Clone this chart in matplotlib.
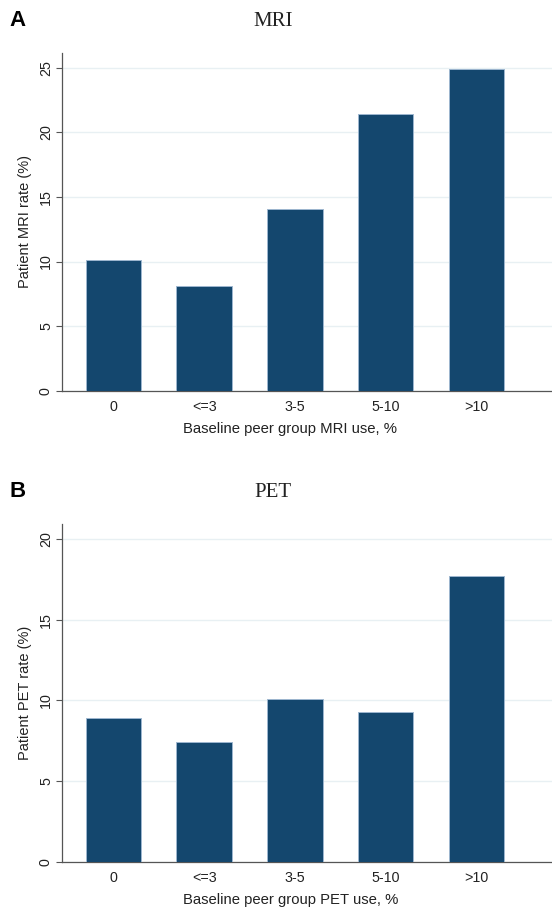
"""Patient MRI / PET rates by baseline peer group use (two-panel bar chart)."""

import matplotlib
matplotlib.use("Agg")
import matplotlib.pyplot as plt
import numpy as np

categories = ["0", "<=3", "3-5", "5-10", ">10"]
mri_rate = [10.15, 8.12, 14.05, 21.4, 24.9]
pet_rate = [8.93, 7.40, 10.09, 9.26, 17.73]

BAR_COLOR = "#14476e"
EDGE_COLOR = "#9db6cf"
GRID_COLOR = "#e8f0f3"
AXIS_COLOR = "#555555"

plt.rcParams["font.family"] = ["Liberation Sans", "DejaVu Sans"]


def draw_panel(fig, rect, values, yticks, ytop, title, letter, modality):
    ax = fig.add_axes(rect)
    x = np.arange(len(categories))
    ax.bar(x, values, width=0.61, color=BAR_COLOR, edgecolor=EDGE_COLOR,
           linewidth=0.7, zorder=3)
    ax.set_xlim(-0.565, 4.83)
    ax.set_ylim(0, ytop)
    ax.set_yticks(yticks)
    ax.set_yticklabels([str(t) for t in yticks], rotation=90, va="center")
    ax.set_xticks(x)
    ax.set_xticklabels(categories)
    ax.tick_params(axis="x", length=0, labelsize=10.3, pad=7,
                   labelcolor="#222222")
    ax.tick_params(axis="y", length=4, width=0.8, color=AXIS_COLOR,
                   labelsize=10.3, pad=2.5, labelcolor="#222222")
    ax.yaxis.grid(True, color=GRID_COLOR, linewidth=1.0, zorder=0)
    ax.set_axisbelow(True)
    for side in ("top", "right"):
        ax.spines[side].set_visible(False)
    for side in ("left", "bottom"):
        ax.spines[side].set_color(AXIS_COLOR)
        ax.spines[side].set_linewidth(0.9)
    ax.set_xlabel(f"Baseline peer group {modality} use, %", fontsize=10.7,
                  color="#222222")
    ax.xaxis.set_label_coords(0.466, -0.092)
    ax.set_ylabel(f"Patient {modality} rate (%)", fontsize=10.5,
                  color="#222222")
    ax.yaxis.set_label_coords(-0.062, 0.5)

    top = rect[1] + rect[3]
    fig.text(0.494, top + 0.035, title, ha="center", va="center",
             fontsize=15, family="Liberation Serif", color="#222222")
    fig.text(0.017, top + 0.036, letter, ha="left", va="center",
             fontsize=16, fontweight="bold", color="black")
    return ax


fig = plt.figure(figsize=(5.52, 9.07), dpi=100)

draw_panel(fig, [0.1123, 0.5692, 0.8877, 0.3724], mri_rate,
           [0, 5, 10, 15, 20, 25], 26.14, "MRI", "A", "MRI")
draw_panel(fig, [0.1123, 0.0499, 0.8877, 0.3720], pet_rate,
           [0, 5, 10, 15, 20], 20.9, "PET", "B", "PET")

fig.savefig("out.png", dpi=100)
